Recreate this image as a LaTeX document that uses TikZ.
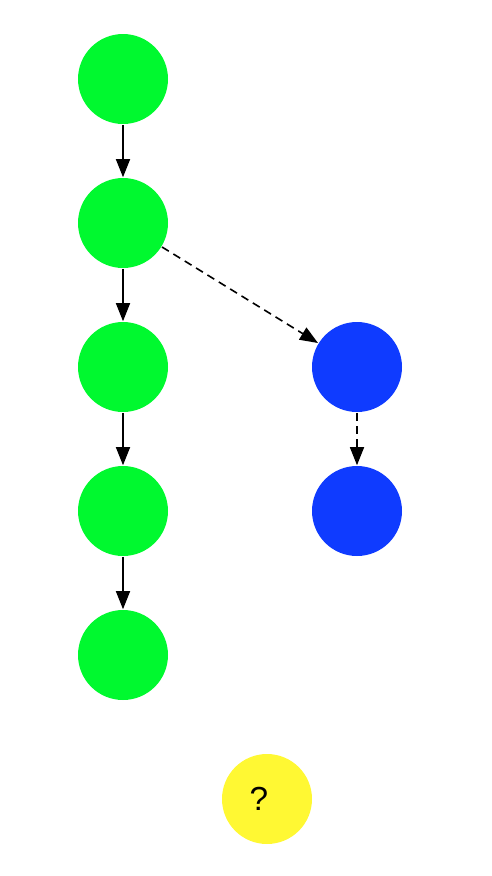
\documentclass[tikz,border=0pt]{standalone}
\usepackage{fontspec}
\setmainfont{Liberation Sans}
\usetikzlibrary{arrows.meta}
\definecolor{commitgreen}{HTML}{00F92F}
\definecolor{branchblue}{HTML}{0F3BFF}
\definecolor{askyellow}{HTML}{FFF833}

\begin{document}
\begin{tikzpicture}[x=0.75pt,y=-0.75pt,>={Triangle[length=13.5pt,width=10.5pt]},line width=1.2pt]
                \tikzset{commit/.style={circle,minimum size=67.5pt,inner sep=0pt,fill=commitgreen},
                         side/.style={commit,fill=branchblue},
                         ask/.style={commit,fill=askyellow,font=\fontsize{25}{30}\selectfont}}
                \useasboundingbox (0,0) rectangle (492,876);
                \node[commit]   (G1) at (123,79)    {};
                \node[commit]   (G2) at (123,223)   {};
                \node[commit]   (G3) at (123,367)   {};
                \node[commit]   (G4) at (123,511)   {};
                \node[commit]   (G5) at (123,655)   {};
                \node[side]     (B1) at (357,367)   {};
                \node[side]     (B2) at (357,511)   {};
                \node[ask]      (Q)  at (267,799)   {?\kern12pt\relax};

                \draw[->] (G1) -- (G2);
                \draw[->] (G2) -- (G3);
                \draw[->] (G3) -- (G4);
                \draw[->] (G4) -- (G5);
                \draw[->,dash pattern=on 6pt off 4pt] (G2) -- (B1);
                \draw[->,dash pattern=on 6pt off 4pt] (B1) -- (B2);
            \end{tikzpicture}
\end{document}
